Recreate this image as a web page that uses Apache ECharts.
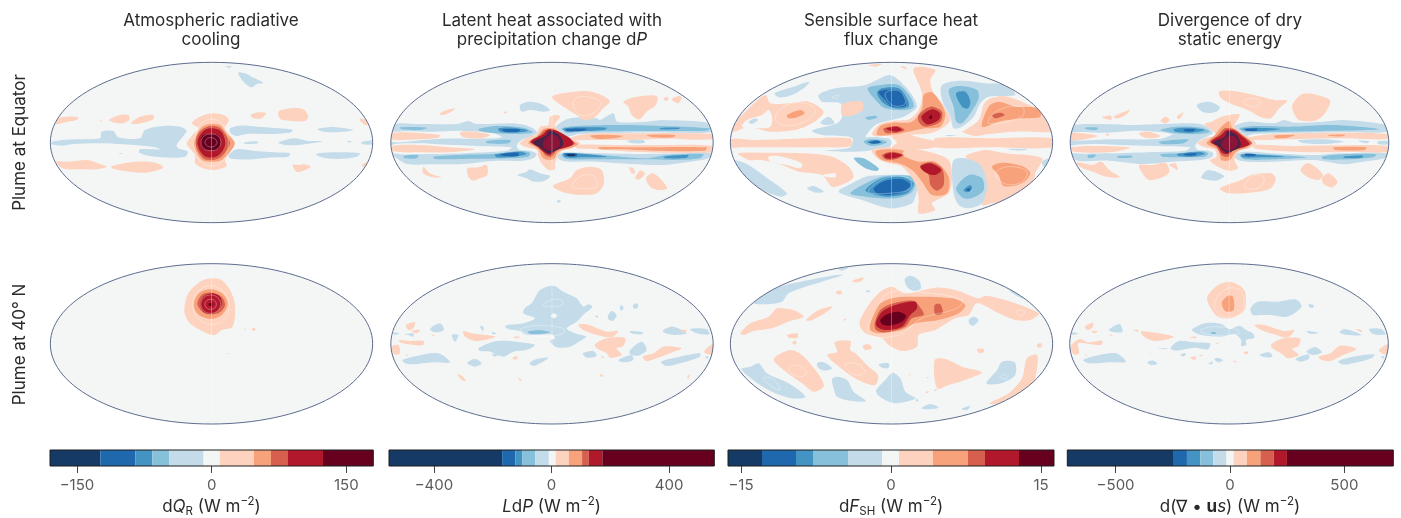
<!DOCTYPE html>
<html><head><meta charset="utf-8">
<style>html,body{margin:0;padding:0;background:#fff}#c{width:1401px;height:518px}</style>
<script src="https://cdn.jsdelivr.net/npm/echarts@6/dist/echarts.min.js"></script>
</head><body><div id="c"></div>
<script>
// Contour polygons are [level, x,y, x,y, ...] in the projected map plane (one unit = 1/3 px of the map frame)
const eqRadiative = [
[-1,35,245,100,238,180,235,185,215,220,213,235,232,300,235,315,210,370,198,420,200,440,212,430,228,410,255,415,265,443,275,435,290,395,293,330,288,298,278,300,268,360,268,345,262,250,253,180,250,100,252,65,257,35,252],
[-1,570,205,600,197,650,200,720,205,758,210,750,218,680,222,620,222,590,228,572,220],
[-1,566,285,590,268,640,272,700,277,750,280,745,290,700,292,640,298,590,298,570,295],
[-1,610,248,650,244,655,250,620,252],[-1,715,248,760,235,800,242,850,244,800,252,760,256,730,254],
[-1,832,207,880,201,940,210,900,216,850,215],[-1,828,282,880,277,960,280,950,290,890,297,845,292],
[-1,965,246,996,242,997,253,965,252],[-1,595,38,615,40,635,50,670,68,650,72,635,82,610,65],
[-1,555,20,575,18,570,23],[-1,235,280,248,280,245,283],[-1,920,243,935,244,930,248],
[1,45,178,80,170,115,172,110,180,75,187,48,193],[1,207,180,240,165,265,165,268,180,250,190,225,188],
[1,273,188,300,170,340,165,340,178,310,188,280,192],[1,632,165,655,157,678,160,665,175,640,175],
[1,715,155,750,145,790,148,805,170,795,183,750,183,722,178],[1,958,177,975,178,990,190,975,195],
[1,48,305,90,305,140,300,180,312,200,320,170,328,120,328,80,328,60,320],
[1,213,320,260,308,330,305,365,315,368,325,320,338,270,335,225,328],
[1,758,315,780,315,790,312,812,320,790,332,770,335],[1,965,315,985,305,987,315,975,322],[1,178,182,186,181,183,185],
[1,515,160,550,165,567,180,555,205,570,225,585,250,570,275,555,300,560,318,525,330,490,325,465,310,465,285,445,260,440,250,460,222,475,205,455,190,480,170],
[2,513,192,540,195,560,220,584,250,565,282,540,302,490,302,470,280,462,248,475,215,490,198],
[3,513,197,540,203,558,225,570,250,555,278,530,298,495,298,475,275,466,248,475,220,492,205],
[4,513,205,538,210,550,225,556,250,548,272,528,290,497,290,480,272,472,248,480,225,494,210],
[5,495,223,530,223,540,235,541,258,528,270,498,270,484,258,483,235]];
const eqLatent = [
[-1,38,195,120,192,230,192,265,183,290,192,400,190,450,200,472,217,455,228,425,240,410,258,420,270,450,272,470,282,460,295,430,302,340,303,250,312,160,313,80,312,50,295,38,285,33,250],
[0,35,217,160,215,240,212,340,220,365,232,300,236,180,236,130,240,35,245],
[0,35,255,120,250,175,253,290,258,395,262,380,272,280,278,150,282,40,280],
[1,36,220,100,218,180,225,175,233,120,238,70,240,36,238],[1,240,218,270,214,330,225,305,235,250,232],
[1,36,258,120,255,210,262,285,268,210,277,120,277,40,274],
[-2,60,202,140,203,120,210,65,208],[-2,295,207,350,198,430,203,460,217,420,222,350,220,300,213],
[-3,355,205,400,203,445,212,400,218,360,215],[-4,365,208,420,208,415,215,375,215],
[-2,320,243,392,240,385,250,320,250],[-2,70,288,115,285,110,295,75,295],
[-2,160,290,250,284,340,282,420,273,450,278,445,290,380,295,250,297,165,297],
[-3,345,283,420,275,440,282,400,290,350,292],[-4,360,284,415,278,415,288,375,288],[-1,135,240,155,245,140,248],
[-1,530,197,570,175,650,175,660,180,700,160,712,185,800,185,850,180,990,190,997,215,900,218,750,218,600,222,570,228,545,225,530,210],
[-2,545,205,590,198,700,195,830,197,990,205,980,212,800,213,600,215,560,218],
[-3,550,207,590,202,680,203,670,210,590,214,560,215],[-3,840,204,900,203,895,207,840,208],[-4,555,207,620,206,610,212,565,213],
[1,575,232,620,222,750,220,998,222,998,238,850,236,750,240,620,240,580,240],
[2,630,227,680,224,730,228,700,235,650,236],[2,800,225,885,225,880,232,820,232],[-1,740,243,790,240,795,248,760,250],
[1,590,255,700,255,850,255,998,258,998,277,870,278,750,275,650,268,590,265],
[2,655,262,750,262,980,262,975,272,820,272,720,268,660,268],
[-1,530,285,560,277,650,280,780,282,900,280,995,280,985,295,900,310,850,315,750,312,650,305,570,305,540,300],
[-2,545,285,590,280,700,288,800,295,860,285,970,282,960,295,880,300,800,298,650,298,560,297],
[-3,550,280,620,283,680,290,610,292,555,292],[-3,850,290,925,285,920,293,860,295],[-4,555,281,590,281,590,288,560,288],[-5,563,283,585,283,585,288,563,288],
[1,420,250,445,232,470,222,480,200,505,195,510,170,535,165,540,172,525,195,545,218,575,235,600,250,575,265,545,272,525,310,525,328,505,330,485,310,475,290,470,270,440,262],
[2,445,248,470,230,490,207,520,205,545,222,580,245,595,252,570,265,535,275,520,298,490,295,475,268],
[3,450,245,480,225,495,210,525,210,560,232,585,250,560,262,530,272,515,290,495,285,480,262],
[4,452,245,490,222,505,208,530,212,570,235,580,252,560,262,525,272,510,285,490,275,470,258],
[6,460,245,495,228,510,212,535,222,548,240,548,258,530,270,505,280,480,262,465,255],
[7,490,245,510,225,530,228,540,245,535,262,510,272,490,262],
[1,515,110,570,97,635,95,690,122,670,145,640,175,610,180,590,165,565,150,535,130],
[1,730,125,770,110,830,108,828,135,800,155,778,178,755,165,745,140],[1,850,115,862,110,865,120,855,122],[1,875,118,895,108,905,112,895,130],
[1,178,162,200,150,225,146,205,160,190,165],[1,370,157,380,155,378,161],[1,130,320,150,340,185,352,150,350,130,340],
[1,262,325,295,322,320,315,322,345,300,355,280,362,265,350],[1,518,378,570,355,590,330,630,320,665,330,672,370,650,400,600,405,545,395],
[1,748,322,760,325,765,340,755,340],[1,765,355,780,332,795,340,780,358],[1,798,355,815,340,835,350,862,385,835,390,810,380],
[-1,420,135,450,125,485,132,510,150,490,155,450,150,425,155],[-1,412,345,440,335,450,328,480,340,510,348,495,362,460,365,440,355],[-1,535,420,543,423,537,428,530,424]];
const eqSensible = [
[1,30,200,60,165,130,105,145,130,200,130,260,125,305,155,270,190,220,210,140,215,100,205,65,205,35,215],
[0,60,200,75,180,120,165,140,150,150,170,145,200,100,205],[-1,80,185,100,175,108,180,90,192],[2,195,165,235,150,248,160,225,172,200,175],
[1,27,237,100,240,200,237,385,235,388,258,300,262,130,262,60,262,27,262],
[1,640,235,800,235,992,235,992,262,800,262,640,262],
[1,730,210,770,180,790,125,840,108,900,125,955,155,985,200,990,215,880,215,800,222,760,228,720,215],
[-1,670,225,705,226,680,229],[-1,855,267,920,267,890,272],
[1,730,290,790,270,850,280,960,295,940,340,930,400,870,420,810,430,780,435,790,370,770,315],
[2,810,320,840,308,900,318,925,340,900,370,845,378,830,345],
[1,48,280,130,278,250,280,330,290,380,320,395,350,370,370,330,380,300,345,230,335,180,315,120,300,80,300],
[0,140,290,170,288,240,310,235,325,195,315,145,305],[0,300,345,340,340,340,352,310,350],
[-1,32,300,70,310,130,350,195,400,175,410,110,385,60,345,35,310],[-1,255,385,275,378,305,395,280,398],[-1,158,100,200,85,262,65,245,85,210,105,170,112],
[-1,290,105,340,85,430,75,500,45,530,60,570,105,585,140,570,155,545,170,510,180,465,192,440,215,432,232,500,235,510,247,500,262,440,272,385,275,310,272,385,262,390,233,300,225,270,212,345,190,360,170,355,130,300,125],
[-1,295,188,320,170,338,190,310,195],[1,358,140,370,128,420,125,422,150,385,168,360,165],
[-1,350,395,390,370,430,350,480,345,560,345,580,350,590,370,580,410,570,430,520,445,480,440,420,420],
[-2,385,400,440,365,490,348,570,350,580,375,565,400,520,415,430,410],[-3,430,390,480,355,540,350,575,370,555,400,500,410,450,402],[-4,455,385,490,362,540,358,565,375,545,395,500,405,465,400],
[-2,395,295,425,295,470,325,465,333,430,325],
[-2,437,85,475,75,530,75,565,110,575,140,550,150,490,145,460,120],[-3,465,100,480,85,530,85,555,115,560,140,520,145,485,130],[-4,470,95,530,90,550,115,550,138,510,140,490,120],
[-2,430,172,460,167,467,172,440,180],
[-1,415,245,440,232,490,235,510,247,485,260,440,262],[-2,425,245,445,238,480,240,495,247,475,255,445,257],[-3,435,246,460,240,480,247,460,252],[-4,443,246,470,242,475,248,445,250],
[-1,660,75,720,62,790,70,850,75,880,105,800,110,775,130,755,170,720,200,695,205,685,170,660,120],
[-2,680,90,710,78,765,90,770,115,745,160,720,190,703,185,695,140],[-3,702,100,730,95,745,125,738,145,720,140],
[-1,695,300,730,295,775,315,795,375,780,430,740,445,710,435,695,400,690,340],
[-2,702,385,740,345,780,355,785,390,760,410,725,415],[-3,725,390,745,375,750,385,735,397],[-4,732,388,745,385,742,395],[-1,960,305,985,295,985,325,970,325],
[1,575,25,640,30,625,60,635,100,660,130,685,180,660,205,625,220,560,225,540,232,490,228,455,228,450,220,470,195,510,183,560,178,590,150,600,100],
[1,450,270,500,262,545,262,620,275,680,300,690,350,680,400,630,430,640,450,590,460,590,420,580,370,540,320,500,310,465,295],
[1,510,232,550,222,600,235,640,245,640,262,570,268,510,262,525,247],
[1,535,20,550,20,555,28],[1,440,15,480,12,460,20],
[2,465,225,475,198,510,188,570,185,600,145,605,105,630,97,660,135,670,165,655,200,610,205,560,215,525,222],
[3,485,205,525,198,548,210,525,218,490,218],[4,492,206,525,200,540,210,520,215],
[3,590,165,625,140,660,155,655,185,610,200,590,185],[4,598,170,630,148,655,160,650,180,615,193],[5,620,172,630,165,628,178],
[2,460,275,500,268,545,272,540,285,590,305,640,305,680,350,675,400,630,405,600,365,570,330,530,310,480,300],
[3,480,285,510,275,545,285,520,298,490,298],[4,487,285,510,278,540,285,515,295,492,295],
[3,595,318,625,307,660,325,665,375,645,392,625,375,620,345],[4,595,320,625,310,658,330,640,345,612,338],
[2,780,200,800,140,830,125,880,140,950,145,955,170,900,175,830,185],[3,810,165,835,158,848,165,820,175]];
const eqDivergence = [
[-1,32,200,120,192,230,195,400,190,440,197,465,218,450,228,425,240,410,258,420,270,450,272,465,280,460,292,430,300,340,305,250,312,150,302,60,303,35,290,31,250],
[0,32,218,140,218,240,212,340,222,305,236,150,238,32,240],[0,32,258,120,252,180,255,290,258,395,262,380,272,280,276,150,280,32,278],
[1,35,220,85,222,115,228,80,237,35,240],[1,240,220,270,215,305,228,280,235,250,230],[1,35,262,120,258,212,263,150,277,40,275],[1,138,222,150,222,145,228],
[-2,75,203,115,203,110,210,80,208],[-2,305,210,350,200,430,203,455,215,420,222,350,220],[-3,345,207,390,203,440,210,400,218,350,215],[-4,375,208,410,208,405,214,380,214],
[-2,300,245,390,238,375,250,310,252],[-2,85,285,110,285,100,293,85,293],[-2,175,288,220,287,215,293,175,293],
[-2,305,283,360,280,430,273,450,280,440,290,390,292,310,290],[-3,355,282,425,276,440,282,400,290,360,288],[-4,375,282,415,280,410,286,380,286],
[-1,530,198,570,185,650,190,680,180,710,188,800,185,860,180,990,195,997,215,850,217,750,218,590,222,560,228,535,212],
[-2,545,205,590,198,700,200,830,195,970,208,800,213,600,216,560,216],[-3,550,207,590,203,670,207,590,214],[-4,560,207,600,206,595,212,565,212],
[1,575,232,650,222,850,218,997,222,997,237,850,235,700,238,590,240],[2,650,227,712,225,690,233,655,234],[2,815,225,865,224,860,229,815,228],
[-1,722,241,800,238,860,245,800,252,740,250],[-1,905,242,940,244,930,250],[-1,965,244,997,244,997,253,965,252],
[1,590,255,700,258,850,256,997,258,997,276,880,276,780,277,650,272,590,265],[2,830,262,930,262,925,270,835,270],
[-1,530,285,560,275,680,282,780,285,850,280,995,280,985,295,900,308,860,313,770,300,650,305,570,305,540,300],
[-2,545,285,590,282,750,292,650,298,560,298],[-2,795,290,860,283,960,283,950,292,880,298,800,298],
[-3,550,283,620,285,680,290,610,292,555,292],[-3,860,290,920,287,915,293,865,294],[-4,560,281,595,283,590,288,565,288],
[1,418,250,440,235,475,225,438,192,460,185,490,170,545,162,540,178,530,195,545,215,580,235,595,250,575,265,545,272,530,300,540,325,510,332,470,315,455,300,475,290,470,270,440,262],
[2,445,250,470,225,490,200,515,183,520,200,545,220,580,245,570,262,535,275,515,300,490,300,480,270],
[3,455,245,480,225,500,205,530,208,565,235,583,250,560,262,525,272,510,290,490,285,475,260],
[4,458,246,488,226,505,210,530,212,560,235,575,252,555,262,522,272,508,282,492,278,478,258],
[6,465,247,498,232,510,214,533,222,546,242,548,258,530,270,505,278,485,262],
[7,490,248,512,228,530,230,540,245,535,262,510,272,492,262],
[1,482,95,520,92,590,105,650,120,690,122,665,145,640,175,610,172,570,150,520,132,490,115],
[1,705,135,735,102,780,105,820,122,800,165,770,183,725,180,710,160],[1,127,172,155,167,155,180],[1,162,170,212,150,200,165,175,175],
[1,305,182,320,170,333,180,320,190],[1,355,170,375,157,362,178],[1,50,307,100,315,125,305,150,330,182,352,140,350,100,335,60,320],
[1,240,315,280,315,320,308,332,335,310,352,270,360,250,340],[1,330,315,350,310,358,330,340,320],
[1,730,330,750,310,775,320,798,345,785,360,750,350],[1,795,355,815,340,842,365,825,382,800,372],
[1,485,385,550,360,580,345,640,340,655,355,640,385,590,397,510,400],
[-1,415,135,450,125,485,140,475,155,435,157],[-1,428,352,450,330,498,348,475,362,440,358]];
const midRadiative = [
[1,433,170,445,115,490,75,540,73,570,105,585,150,578,215,545,225,525,240,500,235,450,205],
[2,462,140,480,112,515,103,550,118,563,148,545,180,515,192,480,182,465,165],
[3,472,148,485,120,515,113,545,125,555,150,540,172,515,178,490,172],
[4,480,148,490,125,515,115,540,125,545,150,530,170,510,177,490,170],
[5,507,145,517,145,517,152,507,152],
[1,612,222,617,221,616,225],[1,635,222,642,218,647,224,640,228],[1,558,295,567,295,563,298]];
const midLatent = [
[-1,375,212,430,205,465,190,430,175,435,158,455,145,480,105,520,92,550,110,590,130,610,155,625,148,637,155,615,175,590,200,560,220,585,235,618,245,600,258,570,275,530,277,510,258,525,250,515,238,440,240,420,228,385,222],
[0,512,182,522,175,532,182,522,190],[-2,443,230,480,226,510,232,480,237,450,236],
[-1,722,150,730,155,728,165,720,165],[-1,758,152,770,145,775,155,765,162],[-1,683,185,695,168,710,180,700,197,688,195],[-1,645,183,655,182,652,188],
[-1,150,222,180,205,192,225,165,232],[-1,300,215,310,215,310,228],[-1,38,232,58,235,45,240],[-1,75,238,100,235,100,245,85,240],[-1,215,240,235,240,225,260],[-1,335,230,350,235,340,238],
[-1,748,228,790,232,785,238,755,235],[-1,850,225,880,215,920,235,880,240,850,232],[-1,930,222,980,222,988,238,950,235],
[-1,295,280,340,260,390,258,420,262,465,270,440,285,400,290,370,305,330,290,300,288],[-1,335,298,355,298,345,305],[-1,608,295,640,288,650,302,620,308],
[-1,68,315,110,303,175,295,210,322,160,322,100,328,75,325],[-1,262,322,285,312,305,325,285,335,265,328],[-1,448,325,470,312,505,308,480,325,460,333],
[-1,715,315,755,300,760,315,730,322],[-1,750,285,785,260,800,285,775,302,750,298],[-1,843,320,900,305,960,295,960,305,900,325,860,333],[-1,975,305,985,303,982,312],
[1,78,210,105,202,100,220,85,225],[1,95,228,120,225,110,235],[1,250,228,275,235,345,245,290,258,255,245],[1,155,240,165,240,160,243],[1,58,255,90,258,130,258,130,270,100,270,60,262],[1,35,275,55,270,60,295,42,298],[1,400,245,420,245,410,250],
[1,595,210,620,208,680,230,715,228,695,247,650,240,610,225],[1,645,268,680,250,735,248,730,272,710,280,725,300,690,308,680,295,650,280],
[1,788,305,820,295,850,275,905,280,870,295,830,310,800,318],[1,900,225,920,225,915,232],[1,972,290,998,268,998,298,985,298],
[1,232,358,245,362,258,378,245,375],[1,416,368,425,375,420,378],[1,658,358,670,360,665,367],[1,398,308,412,303,412,312,400,313],[1,922,365,930,358,925,372],[1,75,300,85,300,80,303],[1,568,295,572,295,570,298],[1,662,305,672,305,670,310]];
const midSensible = [
[1,412,205,440,150,475,110,510,95,550,115,640,98,700,105,770,130,790,122,850,135,950,175,925,195,880,195,830,175,765,145,740,180,700,190,640,225,590,240,585,275,540,288,500,270,480,250,430,235],
[2,445,205,470,150,510,130,560,125,690,130,730,150,710,175,650,195,580,205,540,225,470,235,445,225],
[3,458,205,475,165,515,145,575,138,600,165,605,180,570,190,550,215,490,232,462,225],[3,638,150,655,148,662,175,640,178],
[4,462,200,480,170,520,150,580,140,585,160,565,180,540,215,490,225,465,215],[5,475,195,495,178,530,170,552,182,540,200,500,212,480,208],
[-1,548,72,565,62,590,75,597,100,575,108,555,95],[-1,740,195,755,185,770,195,755,212,745,210],
[-1,95,145,160,100,260,75,330,62,362,60,300,80,250,95,200,115,180,140,125,148],[-1,350,42,378,38,360,47],[-1,860,105,878,110,905,132,880,120],
[1,55,235,85,205,140,185,165,160,215,165,245,185,205,198,150,220,95,228,65,240],[1,252,195,290,165,332,155,300,180,265,197],[1,390,78,425,67,420,77,400,82],[1,342,110,358,107,358,117,345,117],
[1,195,240,225,235,228,248,200,248],[1,212,260,222,258,222,268,212,266],[1,338,262,385,258,385,285,400,295,440,335,468,360,460,390,420,380,370,350,315,300,345,290],
[1,155,312,205,285,240,300,280,345,300,375,305,395,275,410,240,385,185,345],[1,422,272,440,268,450,280,430,285],[1,765,282,785,282,785,292,770,293],[1,945,268,958,265,958,277,948,277],
[1,638,315,670,312,720,335,780,352,730,375,680,390,645,400],[1,802,445,860,415,900,370,915,310,945,300,945,340,930,390,870,425,820,448],
[1,365,192,372,192,368,198],[1,560,358,566,358,562,362],[1,610,412,620,408,618,415],[1,635,405,645,402,640,408],
[-1,58,342,85,335,110,325,135,355,200,385,250,425,210,430,150,410,100,380],[-1,285,325,305,322,330,340,310,347,290,340],[-1,330,372,345,365,375,375,395,410,432,438,390,438,345,425,335,400],
[-1,462,408,490,375,512,353,535,370,550,410,580,430,520,445,480,430],[-1,470,328,500,325,500,338,480,338],[-1,793,385,825,345,840,320,878,322,880,360,850,380,820,388],
[-1,598,460,625,447,650,458,615,463],[-1,718,462,745,452,735,465],[-1,612,367,620,366,618,370],[-1,430,108,445,106,440,112],[-1,580,432,590,435,585,440]];
const midDivergence = [
[1,447,125,480,90,515,80,550,95,563,115,560,165,520,190,480,185,455,155],[2,492,140,510,122,525,125,527,165,505,170,493,155],
[-1,400,225,440,205,490,207,515,222,545,212,565,225,585,235,590,248,565,255,565,270,550,272,550,255,530,238,490,245,430,240],[-2,458,232,475,232,472,236,460,236],
[-1,578,160,600,140,660,140,715,133,733,155,690,185,640,180,610,180,585,180],[-1,755,148,770,150,768,158,757,157],
[-1,148,225,180,207,190,230,165,232],[-1,35,232,55,235,40,240],[-1,335,280,360,258,410,262,455,265,450,283,410,278,350,287],[-1,295,280,330,280,315,283],[-1,365,298,383,295,375,305],[-1,605,300,635,292,645,305,625,307],
[-1,70,315,110,302,170,295,200,320,150,322,90,325],[-1,265,322,285,317,295,327,275,330],[-1,450,325,465,320,460,328],[-1,468,312,480,308,495,316,480,322],
[-1,715,312,755,298,755,312,730,320],[-1,748,290,775,276,795,292,770,300],[-1,845,318,900,303,955,298,945,310,880,327,855,328],[-1,848,232,865,222,915,240,870,240],[-1,938,222,975,222,988,238,950,237],[-1,748,228,785,233,760,237],[-1,975,305,985,303,980,312],
[1,75,215,100,203,100,215,85,225],[1,95,228,115,228,105,235],[1,245,230,270,230,345,245,290,258,255,245],[1,150,238,160,240,155,243],[1,222,225,240,225,235,230],[1,392,247,415,245,410,250],
[1,590,210,620,210,680,228,712,225,690,248,650,238,610,225],[1,640,270,670,252,728,250,725,272,705,282,725,300,690,310,675,298,645,280],[1,785,305,820,295,850,272,900,282,860,300,820,318,795,315],[1,898,222,915,225,915,232],
[1,32,275,60,252,85,262,128,257,125,270,90,267,55,265,58,295,42,298],[1,968,285,996,268,996,298,980,297],[1,395,308,412,305,410,315],[1,556,293,570,290,570,298],[1,525,318,535,318,533,323],[1,472,264,482,264,478,267],[1,422,300,432,300,428,304],[1,75,300,83,300,80,303],[1,270,295,276,295,274,298]];

// faint intermediate contour lines, same map plane
const eqRadiativeFaint = [[465,250,478,198,513,178,550,195,565,250,550,300,513,318,478,300],[483,247,492,228,513,222,534,228,543,247,534,266,513,272,492,266],[495,247,502,236,513,233,524,236,531,247,524,258,513,261,502,258]];
const eqLatentFaint = [[580,130,600,110,660,125,640,160,600,165],[575,380,600,350,640,348,650,380,600,385]];
const eqSensibleFaint = [[160,170,195,135,250,130,280,150,250,185,180,195],[830,150,900,140,900,170,800,190],[820,340,860,320,915,335,900,365,850,372],[490,100,530,92,550,120,545,135,510,135],[440,395,490,355,560,355,565,385,500,400],[330,112,350,105,345,115]];
const eqDivergenceFaint = [[555,125,590,115,610,130,585,140],[560,380,590,345,620,355,600,385]];
const midRadiativeFaint = [[458,150,475,110,512,92,550,110,568,150,550,195,512,208,475,190],[482,148,492,127,512,120,532,127,542,148,532,168,512,175,492,168],[495,148,500,137,512,133,524,137,529,148,524,159,512,163,500,159]];
const midLatentFaint = [[490,150,515,135,545,135,545,150,510,155],[420,225,465,212,550,220,550,235,480,245]];
const midSensibleFaint = [[200,345,225,330,255,355,230,365],[368,330,400,325,430,350,400,360],[125,370,150,370,175,405,150,395],[885,170,905,165,905,178,890,180],[835,365,850,358,855,370,840,372],[470,150,510,110,600,112,720,135,705,160,600,190,530,240,440,235]];
const midDivergenceFaint = [[472,135,510,100,550,110,555,165,510,190,475,170],[425,228,465,215,540,225,545,235,480,243]];

// colour-bar class boundaries
const radiativeLevels = [-180,-124,-85,-66,-47,-9,9,47,66,85,124,180];
const latentLevels = [-553,-168,-123,-100,-55,-9,14,59,104,127,173,554];
const sensibleLevels = [-16.3,-12.9,-9.5,-7.8,-4.3,-0.9,0.8,4.2,7.7,9.4,12.8,16.3];
const divergenceLevels = [-711,-249,-188,-130,-73,-15,16,74,133,191,249,714];
const radiativeTicks = [-150,0,150];
const latentTicks = [-400,0,400];
const sensibleTicks = [-15,0,15];
const divergenceTicks = [-500,0,500];

const palette = {'-5':'#163a66','-4':'#2068ae','-3':'#4393c3','-2':'#86c0db','-1':'#c4dcea','0':'#f4f6f6','1':'#fdd3bf','2':'#f7a27a','3':'#d6604d','4':'#b2182b','5':'#67001f','6':'#4a2148','7':'#8a1538'};
const fontFamily = 'Inter, "Noto Sans", sans-serif';
const panels = [
 {data:eqRadiative, faint:eqRadiativeFaint, fx:40, fy:60, cx:514.5, cy:247.5},{data:eqLatent, faint:eqLatentFaint, fx:380, fy:60, cx:516, cy:247.5},
 {data:eqSensible, faint:eqSensibleFaint, fx:722, fy:60, cx:508.5, cy:247.5},{data:eqDivergence, faint:eqDivergenceFaint, fx:1060, fy:60, cx:514.5, cy:247.5},
 {data:midRadiative, faint:midRadiativeFaint, fx:40, fy:255, cx:514.5, cy:266.5},{data:midLatent, faint:midLatentFaint, fx:380, fy:255, cx:516, cy:266.5},
 {data:midSensible, faint:midSensibleFaint, fx:722, fy:255, cx:508.5, cy:266.5},{data:midDivergence, faint:midDivergenceFaint, fx:1060, fy:255, cx:513, cy:266.5}];
const bars = [
 {lv:radiativeLevels, t:radiativeTicks, x:50, w:323.3, c:211.5, name:'d{i|Q}{sub|R} (W m{sup|−2})'},
 {lv:latentLevels, t:latentTicks, x:389, w:325.3, c:551.5, name:'{i|L}d{i|P} (W m{sup|−2})'},
 {lv:sensibleLevels, t:sensibleTicks, x:728, w:326, c:891, name:'d{i|F}{sub|SH} (W m{sup|−2})'},
 {lv:divergenceLevels, t:divergenceTicks, x:1067.3, w:326, c:1230, name:'d(∇ • {b|u}{i|s}) (W m{sup|−2})'}];
const heads = [['Atmospheric radiative\ncooling',211],['Latent heat associated with\nprecipitation change d{i|P}',552],['Sensible surface heat\nflux change',891],['Divergence of dry\nstatic energy',1230]];

const RX = 483.5, RY = 240.5, TITLE_PAD = 5;
const grid=[],xAxis=[],yAxis=[],series=[],title=[];
panels.forEach((p,i)=>{
  grid.push({left:p.fx,top:p.fy,width:345,height:170});
  xAxis.push({gridIndex:i,type:'value',min:0,max:1035,show:false});
  yAxis.push({gridIndex:i,type:'value',min:0,max:510,inverse:true,show:false});
  const ell=api=>{const c=api.coord([p.cx,p.cy]),e=api.coord([p.cx+RX,p.cy+RY]);return {cx:c[0],cy:c[1],rx:e[0]-c[0],ry:e[1]-c[1]};};
  const common={type:'custom',xAxisIndex:i,yAxisIndex:i,silent:true,clip:false};
  series.push({...common,z:1,data:[[p.cx,p.cy]],
    renderItem:(ps,api)=>({type:'ellipse',shape:ell(api),style:{fill:palette[0]}})});
  series.push({...common,z:2,data:p.data.map((d,k)=>[k,d[0]]),
    renderItem:(ps,api)=>{
      const d=p.data[ps.dataIndex],pts=[];
      for(let k=1;k<d.length;k+=2)pts.push(api.coord([d[k],d[k+1]]));
      return {type:'polygon',shape:{points:pts,smooth:0.3},style:{fill:palette[d[0]]},clipPath:{type:'ellipse',shape:ell(api)}};
    }});
  series.push({...common,z:3,data:p.faint.map((d,k)=>[k]),
    renderItem:(ps,api)=>{
      const d=p.faint[ps.dataIndex],pts=[];
      for(let k=0;k<d.length;k+=2)pts.push(api.coord([d[k],d[k+1]]));
      return {type:'polygon',shape:{points:pts,smooth:0.4},style:{fill:'none',stroke:'rgba(255,255,255,0.45)',lineWidth:0.7}};
    }});
  series.push({...common,z:4,data:[[p.cx]],
    renderItem:(ps,api)=>{
      const a=api.coord([p.cx,p.cy-RY]),b=api.coord([p.cx,p.cy+RY]);
      return {type:'line',shape:{x1:a[0],y1:a[1],x2:b[0],y2:b[1]},style:{stroke:'rgba(255,255,255,0.45)',lineWidth:0.7}};
    }});
  series.push({...common,z:5,data:[[p.cx,p.cy]],
    renderItem:(ps,api)=>({type:'ellipse',shape:ell(api),style:{fill:'none',stroke:'#5d6d8e',lineWidth:1}})});
});
const n=panels.length;
bars.forEach((b,j)=>{
  const g=n+j;
  grid.push({left:b.x,top:450,width:b.w,height:16});
  xAxis.push({gridIndex:g,type:'value',min:b.lv[0],max:b.lv[b.lv.length-1],position:'bottom',
    axisLine:{show:false},splitLine:{show:false},
    axisTick:{show:true,length:7,customValues:b.t,lineStyle:{color:'#444',width:1}},
    axisLabel:{show:true,customValues:b.t,margin:12,fontSize:15,fontFamily,color:'#5a5a5a',showMinLabel:true,showMaxLabel:true,
      formatter:v=>String(v).replace('-','−')}});
  yAxis.push({gridIndex:g,type:'value',min:0,max:1,show:false});
  const cells=b.lv.slice(0,-1).map((v,k)=>[v,b.lv[k+1],k-5]);
  series.push({type:'custom',xAxisIndex:g,yAxisIndex:g,silent:true,clip:false,z:2,data:cells,encode:{x:[0,1]},
    renderItem:(ps,api)=>{
      const a=api.coord([api.value(0),1]),z=api.coord([api.value(1),0]);
      return {type:'rect',shape:{x:a[0],y:a[1],width:z[0]-a[0],height:z[1]-a[1]},style:{fill:palette[api.value(2)]}};
    }});
  series.push({type:'custom',xAxisIndex:g,yAxisIndex:g,silent:true,clip:false,z:3,data:[[b.lv[0],b.lv[b.lv.length-1]]],encode:{x:[0,1]},
    renderItem:(ps,api)=>{
      const a=api.coord([api.value(0),1]),z=api.coord([api.value(1),0]);
      return {type:'rect',shape:{x:a[0],y:a[1],width:z[0]-a[0],height:z[1]-a[1]},style:{fill:'none',stroke:'#1c1c1c',lineWidth:1}};
    }});
  title.push({text:b.name,left:b.c-TITLE_PAD,top:491,textAlign:'center',textStyle:{fontFamily,fontSize:17,fontWeight:400,color:'#2a2a2a',lineHeight:22,
    rich:{i:{fontStyle:'italic',fontFamily,fontSize:17,color:'#2a2a2a',lineHeight:22},b:{fontWeight:700,fontFamily,fontSize:17,color:'#2a2a2a',lineHeight:22},
      sub:{fontSize:11.5,fontFamily,color:'#2a2a2a',verticalAlign:'bottom',lineHeight:14},sup:{fontSize:11.5,fontFamily,color:'#2a2a2a',verticalAlign:'top',lineHeight:14}}}});
});
heads.forEach(h=>title.push({text:h[0],left:h[1]-TITLE_PAD,top:6,textAlign:'center',textStyle:{fontFamily,fontSize:17,fontWeight:400,color:'#2a2a2a',lineHeight:19,
  rich:{i:{fontStyle:'italic',fontFamily,fontSize:17,color:'#2a2a2a',lineHeight:19}}}}));
const chart=echarts.init(document.getElementById('c'),null,{renderer:'canvas'});
chart.setOption({animation:false,backgroundColor:'#fff',grid,xAxis,yAxis,series,title,
  graphic:[['Plume at Equator',20,142.5],['Plume at 40° N',20,344.5]].map(r=>({type:'text',x:r[1],y:r[2],rotation:Math.PI/2,z:10,
    style:{text:r[0],fontFamily,fontSize:17,fill:'#2a2a2a',align:'center',verticalAlign:'middle'}}))});
</script></body></html>
